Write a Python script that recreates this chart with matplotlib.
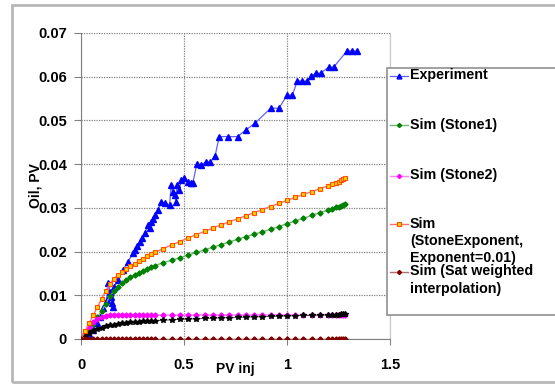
import matplotlib
matplotlib.use("Agg")
import matplotlib.pyplot as plt
from matplotlib.lines import Line2D
from matplotlib.patches import Rectangle

plt.rcParams['font.family'] = ['Liberation Sans', 'DejaVu Sans']
plt.rcParams['font.weight'] = 'bold'

# experimental recovery
exp_pv = [0, 0.02, 0.04, 0.059, 0.076, 0.092, 0.108, 0.124, 0.132, 0.14, 0.148, 0.152,
          0.156, 0.16, 0.18, 0.204, 0.228, 0.253, 0.261, 0.273, 0.285, 0.297, 0.309,
          0.325, 0.333, 0.341, 0.349, 0.357, 0.373, 0.39, 0.406, 0.43, 0.438, 0.445,
          0.454, 0.462, 0.466, 0.478, 0.486, 0.502, 0.518, 0.535, 0.543, 0.562, 0.583,
          0.607, 0.628, 0.651, 0.671, 0.716, 0.76, 0.8, 0.845, 0.921, 0.961, 1.001,
          1.026, 1.05, 1.074, 1.098, 1.117, 1.142, 1.163, 1.203, 1.227, 1.291, 1.316, 1.34]
exp_oil = [0, 0.0005, 0.0012, 0.002, 0.0037, 0.0051, 0.0071, 0.0089, 0.0128, 0.0108, 0.0097, 0.0082,
           0.0074, 0.012, 0.0135, 0.0158, 0.0177, 0.0197, 0.0204, 0.0213, 0.0223, 0.0232, 0.0242,
           0.026, 0.0255, 0.0268, 0.0275, 0.0284, 0.0295, 0.0314, 0.0311, 0.0307, 0.0352, 0.0336,
           0.033, 0.0314, 0.0352, 0.034, 0.0364, 0.0368, 0.036, 0.0357, 0.0357, 0.040, 0.0398,
           0.0405, 0.0405, 0.0419, 0.0463, 0.0463, 0.0463, 0.0478, 0.0494, 0.0528, 0.0528, 0.0558,
           0.0558, 0.059, 0.059, 0.059, 0.0602, 0.0608, 0.0608, 0.0622, 0.0622, 0.0659, 0.0659, 0.0659]

# simulation output times (PV injected)
sim_pv = [0, 0.02, 0.04, 0.06, 0.08, 0.10, 0.12, 0.14, 0.16, 0.18, 0.20, 0.22, 0.24, 0.26,
          0.28, 0.30, 0.32, 0.34, 0.36,
          0.40, 0.44, 0.48, 0.52, 0.56, 0.60, 0.64, 0.68, 0.72, 0.76, 0.80, 0.84, 0.88,
          0.92, 0.96, 1.00, 1.04, 1.08, 1.12, 1.16, 1.20,
          1.22, 1.24, 1.25, 1.26, 1.27, 1.28]

stone1 = [0, 0.001, 0.0022, 0.0035, 0.005, 0.0064, 0.008, 0.0098, 0.011, 0.012, 0.0128, 0.0135,
          0.0141, 0.0146, 0.0151, 0.0155, 0.0159, 0.0164, 0.0168,
          0.0175, 0.018, 0.0186, 0.0192, 0.0198, 0.0204, 0.021, 0.0216, 0.0222, 0.0228, 0.0234,
          0.024, 0.0245, 0.0251, 0.0257, 0.0264, 0.027, 0.0276, 0.0283, 0.0289, 0.0295,
          0.0298, 0.0301, 0.0303, 0.0305, 0.0307, 0.0309]

stone2 = [0, 0.0014, 0.0027, 0.0038, 0.0046, 0.0051, 0.0053, 0.0054, 0.0055, 0.0055, 0.0055,
          0.0055, 0.0055, 0.0055, 0.0055, 0.0055, 0.0055, 0.0055, 0.0055,
          0.0055, 0.0055, 0.0055, 0.0055, 0.0055, 0.0055, 0.0055, 0.0055, 0.0055, 0.0055, 0.0055,
          0.0055, 0.0055, 0.0055, 0.0055, 0.0055, 0.0055, 0.0055, 0.0055, 0.0055, 0.0055,
          0.0055, 0.0055, 0.0055, 0.0055, 0.0055, 0.0055]

stone_exp = [0, 0.0018, 0.0037, 0.0055, 0.0073, 0.0092, 0.011, 0.0126, 0.0138, 0.0146, 0.0153,
             0.016, 0.0166, 0.0172, 0.0178, 0.0184, 0.0189, 0.0194, 0.0198,
             0.0207, 0.0215, 0.0223, 0.0231, 0.0239, 0.0246, 0.0254, 0.0261, 0.0268, 0.0275,
             0.0282, 0.0289, 0.0296, 0.0303, 0.031, 0.0317, 0.0324, 0.0331, 0.0337, 0.0344, 0.035,
             0.0354, 0.0358, 0.036, 0.0363, 0.0366, 0.0369]

sat_weighted = [0.0] * len(sim_pv)

other_sim = [0, 0.0007, 0.0013, 0.0018, 0.0022, 0.0026, 0.0029, 0.0031, 0.0033, 0.0035, 0.0036,
             0.0037, 0.0038, 0.0039, 0.004, 0.0041, 0.0041, 0.0042, 0.0042,
             0.0043, 0.0044, 0.0045, 0.0046, 0.0046, 0.0047, 0.0048, 0.0048, 0.0049, 0.005, 0.005,
             0.0051, 0.0051, 0.0052, 0.0052, 0.0053, 0.0053, 0.0054, 0.0054, 0.0055, 0.0055,
             0.0056, 0.0056, 0.0056, 0.0057, 0.0057, 0.0057]

W, H = 555, 385
fig = plt.figure(figsize=(W / 100, H / 100), dpi=100)


def fx(px):
    return px / W


def fy(py):
    return 1 - py / H


ax = fig.add_axes([fx(81), fy(339), fx(390) - fx(81), fy(33) - fy(339)])

styles = [
    dict(marker='^', ms=4, color='#6060ff', mfc='#0000ff', mec='#0000ff', lw=0.9),
    dict(marker='D', ms=2.6, color='#70b870', mfc='#008000', mec='#008000', lw=1.0),
    dict(marker='D', ms=2.6, color='#ff80ff', mfc='#ff00ff', mec='#ff00ff', lw=1.0),
    dict(marker='s', ms=3.4, color='#ff7070', mfc='#ffd000', mec='#ff5000', mew=0.8, lw=1.0),
    dict(marker='D', ms=2.6, color='#b07070', mfc='#800000', mec='#800000', lw=1.0),
]

ax.plot(exp_pv, exp_oil, **styles[0], zorder=3)
ax.plot(sim_pv, stone1, **styles[1], zorder=3)
ax.plot(sim_pv, stone2, **styles[2], zorder=3)
ax.plot(sim_pv, other_sim, marker='*', ms=4, color='#303030', mfc='black', mec='black',
        lw=0.6, zorder=3)
ax.plot(sim_pv, stone_exp, **styles[3], zorder=3)
ax.plot(sim_pv, sat_weighted, **styles[4], zorder=3)

ax.set_xlim(0, 1.5)
ax.set_ylim(0, 0.07)
ax.set_xticks([0, 0.5, 1, 1.5])
ax.set_xticklabels(['0', '0.5', '1', '1.5'])
ax.set_yticks([0, 0.01, 0.02, 0.03, 0.04, 0.05, 0.06, 0.07])
ax.set_yticklabels(['0', '0.01', '0.02', '0.03', '0.04', '0.05', '0.06', '0.07'])
ax.tick_params(axis='both', labelsize=10.5, colors='#808080', labelcolor='black')
ax.tick_params(axis='x', length=4, pad=10)
ax.tick_params(axis='y', length=5, pad=5)
for lab in ax.get_xticklabels() + ax.get_yticklabels():
    lab.set_fontweight('bold')

ax.grid(True, color='#808080', linestyle=(0, (1, 1)), linewidth=0.9)
ax.set_axisbelow(True)
ax.spines['top'].set_visible(False)
ax.spines['left'].set_color('#808080')
ax.spines['bottom'].set_color('#808080')
ax.spines['right'].set_color('#c8c8c8')

ax.set_xlabel('PV inj', fontsize=10, fontweight='bold')
ax.xaxis.set_label_coords(0.5, -0.075)
ax.xaxis.label.set_va('top')
ax.set_ylabel('Oil, PV', fontsize=10, fontweight='bold')
ax.yaxis.set_label_coords(-0.148, 0.5)
ax.yaxis.label.set_va('center')

# outer chart frame
fig.add_artist(Rectangle((fx(12), fy(382)), fx(560) - fx(12), fy(5) - fy(382),
                         transform=fig.transFigure, fill=False, edgecolor='#b8b8b8', lw=2))

# legend box with widely spaced entries
fig.add_artist(Rectangle((fx(387), fy(315)), fx(556) - fx(387), fy(68) - fy(315),
                         transform=fig.transFigure, facecolor='white', edgecolor='#909090',
                         lw=1.2, zorder=5))
labels = ['Experiment', 'Sim (Stone1)', 'Sim (Stone2)',
          'Sim\n(StoneExponent,\nExponent=0.01)', 'Sim (Sat weighted\ninterpolation)']
entry_y = [76, 125, 176, 224, 272]
for st, lab, y in zip(styles, labels, entry_y):
    st = dict(st)
    st['ms'] = st['ms'] - 0.5
    fig.add_artist(Line2D([fx(390), fx(399), fx(408)], [fy(y)] * 3, markevery=[1],
                          transform=fig.transFigure, zorder=6, **st))
    fig.text(fx(410), fy(y - 7.5), lab, fontsize=10.3, fontweight='bold', va='top',
             ha='left', linespacing=1.3, zorder=7)

fig.savefig('out.png', dpi=100)
